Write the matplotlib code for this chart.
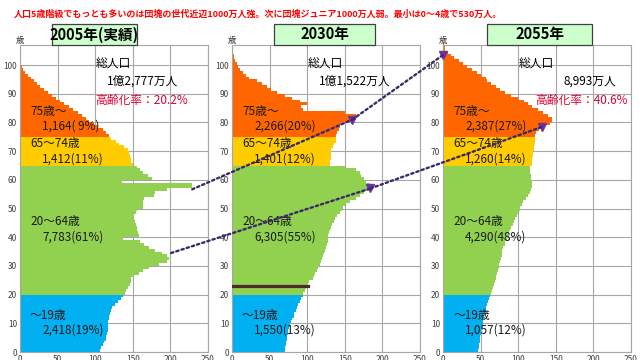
"""Japan population pyramid (half) 2005 / 2030 / 2055."""
import numpy as np
import matplotlib; matplotlib.use("Agg")
import matplotlib.pyplot as plt
from matplotlib.patches import Rectangle, ConnectionPatch

plt.rcParams['font.family'] = ['Noto Sans CJK JP', 'DejaVu Sans']

# population per single age (万人)
pop_2005 = [106, 108, 110, 112, 114, 115, 116, 117, 117, 117,
            117, 118, 119, 120, 121, 123, 126, 130, 134, 137,
            139, 141, 143, 146, 147, 148, 152, 158, 163, 172,
            185, 195, 198, 195, 189, 180, 172, 165, 160, 137,
            158, 157, 155, 155, 154, 153, 150, 152, 154, 155,
            163, 163, 163, 165, 178, 180, 195, 229, 229, 136,
            176, 170, 163, 160, 155, 150, 148, 147, 146, 145,
            143, 138, 132, 127, 121, 119, 115, 110, 104, 98,
            92, 88, 82, 77, 71, 65, 59, 53, 48, 42,
            37, 32, 27, 22, 18, 14, 10, 7, 4, 2]
pop_2030 = [70, 71, 72, 72, 73, 73, 74, 75, 76, 77,
            79, 80, 82, 83, 85, 86, 88, 90, 92, 94,
            95, 97, 99, 101, 103, 108, 109, 111, 113, 115,
            117, 119, 120, 121, 122, 124, 125, 126, 127, 127,
            128, 129, 130, 132, 133, 135, 137, 140, 143, 146,
            148, 150, 157, 165, 170, 175, 183, 185, 183, 178,
            175, 172, 170, 165, 150, 130, 130, 131, 131, 132,
            132, 134, 136, 138, 138, 138, 140, 142, 143, 145,
            160, 165, 165, 150, 95, 92, 100, 90, 80, 70,
            60, 52, 46, 40, 33, 23, 18, 14, 11, 8,
            6, 4, 3, 2, 1]
pop_2055 = [47, 48, 48, 49, 49, 49, 50, 51, 52, 53,
            53, 54, 55, 56, 57, 57, 58, 60, 61, 63,
            64, 65, 66, 68, 69, 70, 71, 72, 73, 74,
            75, 76, 77, 78, 79, 79, 80, 82, 83, 85,
            86, 88, 89, 91, 93, 94, 96, 98, 100, 102,
            103, 105, 107, 110, 113, 116, 117, 118, 118, 118,
            117, 117, 116, 116, 116, 118, 119, 119, 120, 120,
            121, 121, 122, 122, 123, 123, 124, 127, 133, 142,
            145, 145, 140, 133, 126, 118, 113, 108, 100, 90,
            83, 76, 70, 64, 59, 57, 51, 45, 38, 32,
            26, 21, 15, 10, 6, 3, 2, 1]

years = ['2005年(実績)', '2030年', '2055年']
totals = ['1億2,777万人', '1億1,522万人', '8,993万人']
aging = ['高齢化率：20.2%', None, '高齢化率：40.6%']
grp_names = ['75歳～', '65～74歳', '20～64歳', '～19歳']
grp_vals = [['1,164( 9%)', '1,412(11%)', '7,783(61%)', '2,418(19%)'],
            ['2,266(20%)', '1,401(12%)', '6,305(55%)', '1,550(13%)'],
            ['2,387(27%)', '1,260(14%)', '4,290(48%)', '1,057(12%)']]
# cohort tracks: (x, age) in each panel
boomers = [(229, 56.7), (160, 81), (0, 103.5)]
juniors = [(201, 34.5), (184, 57), (132, 78.5)]

C_OLD, C_YO, C_WORK, C_KID = '#ff6600', '#ffcc00', '#92d050', '#00b0f0'

def age_color(a):
    if a >= 75: return C_OLD
    if a >= 65: return C_YO
    if a >= 20: return C_WORK
    return C_KID

W, H = 640, 360
fig = plt.figure(figsize=(6.4, 3.6), dpi=100)
fig.patch.set_facecolor('white')

def fx(px): return px / W
def fy(py): return 1 - py / H

lefts = [20, 232, 443]
axes = []
for i, pop in enumerate([pop_2005, pop_2030, pop_2055]):
    ax = fig.add_axes([fx(lefts[i]), fy(352), 188 / W, 307 / H])
    ages = np.arange(len(pop))
    bars = ax.barh(ages, pop, height=1, align='edge', linewidth=0,
                   color=[age_color(a) for a in ages], zorder=2)
    if i == 2:
        for b in bars: b.set_clip_on(False)
    ax.set_xlim(0, 250); ax.set_ylim(0, 107)
    ax.set_xticks(range(0, 251, 50)); ax.set_yticks(range(0, 101, 10))
    ax.grid(True, color='#a6a6a6', linewidth=0.8, zorder=0)
    ax.set_axisbelow(True)
    ax.tick_params(length=0, labelsize=6, labelcolor='#404040', pad=2)
    for s in ax.spines.values():
        s.set_color('#a6a6a6'); s.set_linewidth(0.8)
    axes.append(ax)

# brown marker line in 2030 at ~age 23
axes[1].plot([0, 101], [23, 23], color='#4d2b2b', lw=2.3, zorder=3)

# texts per panel
for i, ax in enumerate(axes):
    x0 = lefts[i]
    fig.text(fx(x0), fy(40), '歳', fontsize=6, ha='center', va='center', color='#333333')
    fig.text(fx(x0 + 76), fy(64), '総人口', fontsize=8.5, va='center')
    fig.text(fx(x0 + (87 if i < 2 else 120)), fy(81), totals[i], fontsize=8.5, va='center')
    if aging[i]:
        fig.text(fx(x0 + 75 if i == 0 else x0 + 92), fy(100), aging[i], fontsize=8.5,
                 va='center', color='#e00030')
    ys = [(111, 126), (144, 159), (222, 237), (315, 330)]
    for k in range(4):
        fig.text(fx(x0 + 10), fy(ys[k][0]), grp_names[k], fontsize=8.5, va='center', color='#1a1a1a')
        fig.text(fx(x0 + 22), fy(ys[k][1]), grp_vals[i][k], fontsize=8.5, va='center', color='#1a1a1a')

# year title boxes
boxes = [(52, 137), (274, 375), (487, 592)]
for (l, r), t in zip(boxes, years):
    fig.add_artist(Rectangle((fx(l), fy(45)), (r - l) / W, 21 / H, transform=fig.transFigure,
                             facecolor='#ccffcc', edgecolor='#404040', lw=0.9))
    fig.text(fx((l + r) / 2), fy(34.5), t, fontsize=10.5, fontweight='bold', ha='center', va='center')

# cohort dotted lines with triangle markers
for track in [boomers, juniors]:
    for j in range(2):
        cp = ConnectionPatch(xyA=track[j], coordsA=axes[j].transData,
                             xyB=track[j + 1], coordsB=axes[j + 1].transData,
                             linestyle=(0, (1, 1.3)), color='#3b2a6b', lw=1.7, zorder=5,
                             capstyle='round')
        fig.add_artist(cp)
    for j in (1, 2):
        axes[j].plot(*track[j], marker='v', ms=6, color='#7030a0', clip_on=False, zorder=6)

fig.text(fx(14), fy(14), '人口5歳階級でもっとも多いのは団塊の世代近辺1000万人強。次に団塊ジュニア1000万人弱。最小は0～4歳で530万人。',
         fontsize=6.5, color='#ff0000', fontweight='bold', va='center')

fig.savefig('out.png', dpi=100)
print('done')
